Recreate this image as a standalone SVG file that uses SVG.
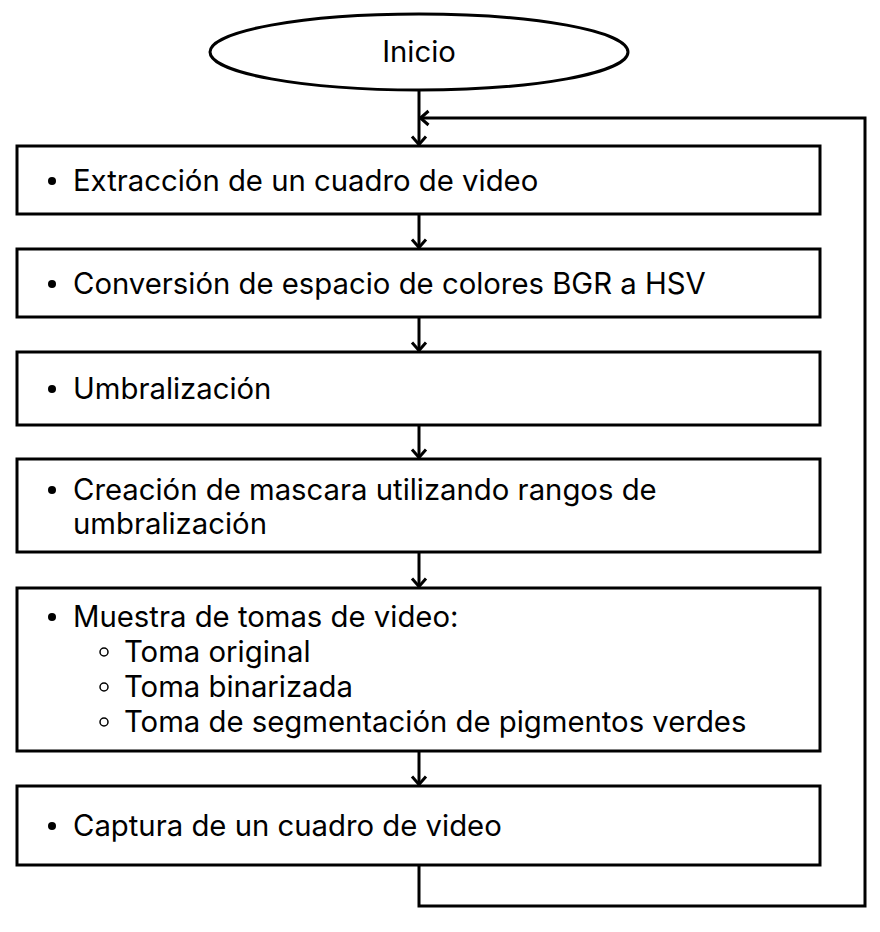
<svg xmlns="http://www.w3.org/2000/svg" width="880" height="932" viewBox="0 0 880 932">
<defs>
<style>
.box{fill:#fff;stroke:#000;stroke-width:3}
.t{font-family:Inter,"Liberation Sans",sans-serif;font-size:29.3px;fill:#000}
.c{fill:none;stroke:#000;stroke-width:3}
.b{fill:#000}
.o{fill:none;stroke:#000;stroke-width:1.5}
</style>
<marker id="ah" viewBox="0 0 12 18" refX="10.5" refY="9" markerWidth="12" markerHeight="18" markerUnits="userSpaceOnUse" orient="auto">
<path d="M2,2 L10,9 L2,16" fill="none" stroke="#000" stroke-width="3"/>
</marker>
</defs>
<rect width="880" height="932" fill="#fff"/>
<g id="connectors">
<path class="c" d="M419,90 V145" marker-end="url(#ah)"/>
<path class="c" d="M419,865 V906 H865 V118 H420" marker-end="url(#ah)"/>
<path class="c" d="M419,214 V248" marker-end="url(#ah)"/>
<path class="c" d="M419,317 V351" marker-end="url(#ah)"/>
<path class="c" d="M419,425 V458" marker-end="url(#ah)"/>
<path class="c" d="M419,552 V587" marker-end="url(#ah)"/>
<path class="c" d="M419,751 V785" marker-end="url(#ah)"/>
</g>
<g id="inicio">
<ellipse class="box" cx="419" cy="52" rx="209" ry="38"/>
<text class="t" x="419" y="62" text-anchor="middle">Inicio</text>
</g>
<g id="n1">
<rect class="box" x="17" y="146" width="803" height="68"/>
<circle class="b" cx="52" cy="181" r="4"/>
<text class="t" x="73" y="191">Extracción de un cuadro de video</text>
</g>
<g id="n2">
<rect class="box" x="17" y="249" width="803" height="68"/>
<circle class="b" cx="52" cy="284" r="4"/>
<text class="t" x="73" y="294">Conversión de espacio de colores BGR a HSV</text>
</g>
<g id="n3">
<rect class="box" x="17" y="352" width="803" height="73"/>
<circle class="b" cx="52" cy="389" r="4"/>
<text class="t" x="73" y="399">Umbralización</text>
</g>
<g id="n4">
<rect class="box" x="17" y="459" width="803" height="93"/>
<circle class="b" cx="52" cy="490" r="4"/>
<text class="t" x="73" y="500">Creación de mascara utilizando rangos de</text>
<text class="t" x="73" y="534">umbralización</text>
</g>
<g id="n5">
<rect class="box" x="17" y="588" width="803" height="163"/>
<circle class="b" cx="52" cy="617" r="4"/>
<text class="t" x="73" y="627">Muestra de tomas de video:</text>
<circle class="o" cx="104" cy="652" r="4"/>
<text class="t" x="124" y="662">Toma original</text>
<circle class="o" cx="104" cy="687" r="4"/>
<text class="t" x="124" y="697">Toma binarizada</text>
<circle class="o" cx="104" cy="722" r="4"/>
<text class="t" x="124" y="732">Toma de segmentación de pigmentos verdes</text>
</g>
<g id="n6">
<rect class="box" x="17" y="786" width="803" height="79"/>
<circle class="b" cx="52" cy="826" r="4"/>
<text class="t" x="73" y="836">Captura de un cuadro de video</text>
</g>
</svg>
